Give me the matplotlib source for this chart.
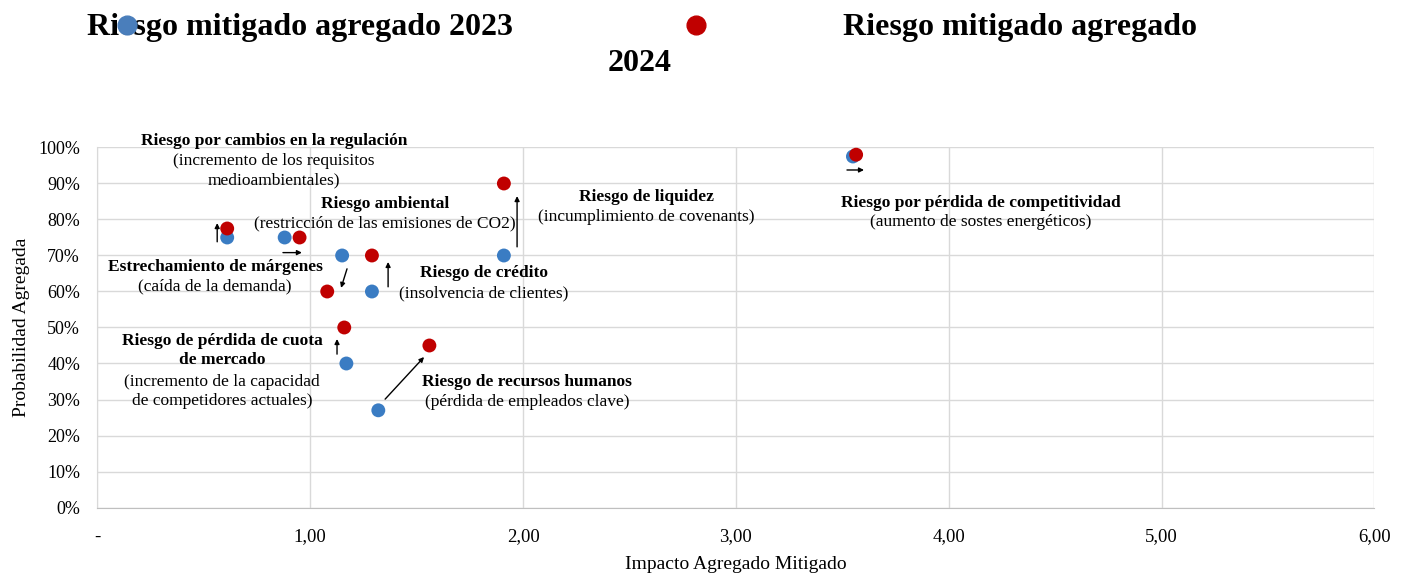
import matplotlib
matplotlib.use("Agg")
import matplotlib.pyplot as plt
from matplotlib.lines import Line2D

plt.rcParams['font.family'] = ['Liberation Serif', 'DejaVu Serif']

# ---------------- data ----------------
riesgos = ["Regulación", "Ambiental", "Márgenes", "Crédito", "Liquidez",
           "Cuota de mercado", "Recursos humanos", "Competitividad"]
impacto_2023 = [0.61, 0.88, 1.15, 1.29, 1.91, 1.17, 1.32, 3.55]
prob_2023 = [0.75, 0.75, 0.70, 0.60, 0.70, 0.40, 0.27, 0.975]
impacto_2024 = [0.61, 0.95, 1.08, 1.29, 1.91, 1.16, 1.56, 3.565]
prob_2024 = [0.775, 0.75, 0.60, 0.70, 0.90, 0.50, 0.45, 0.98]

serie_2023 = "Riesgo mitigado agregado 2023"
serie_2024 = "Riesgo mitigado agregado"
serie_2024_b = "2024"

titulos = ["Riesgo por cambios en la regulación", "Riesgo ambiental",
           "Estrechamiento de márgenes", "Riesgo de crédito", "Riesgo de liquidez",
           "Riesgo de pérdida de cuota\nde mercado", "Riesgo de recursos humanos",
           "Riesgo por pérdida de competitividad"]
subtitulos = ["(incremento de los requisitos\nmedioambientales)",
              "(restricción de las emisiones de CO2)",
              "(caída de la demanda)", "(insolvencia de clientes)",
              "(incumplimiento de covenants)",
              "(incremento de la capacidad\nde competidores actuales)",
              "(pérdida de empleados clave)",
              "(aumento de sostes energéticos)"]
# label anchor positions (data coords): title (x, y), subtitle y
titulo_pos = [(0.830, 1.018), (1.351, 0.843), (0.553, 0.668), (1.817, 0.651),
              (2.578, 0.863), (0.586, 0.436), (2.019, 0.349), (4.152, 0.846)]
subtitulo_y = [0.935, 0.790, 0.613, 0.596, 0.807, 0.321, 0.293, 0.793]
# arrows (start -> end), data coords
flechas = [((0.563, 0.738), (0.563, 0.790)),
           ((0.872, 0.708), (0.961, 0.708)),
           ((1.173, 0.663), (1.145, 0.610)),
           ((1.366, 0.613), (1.366, 0.682)),
           ((1.972, 0.724), (1.972, 0.865)),
           ((1.126, 0.426), (1.126, 0.468)),
           ((1.352, 0.301), (1.535, 0.418)),
           ((3.522, 0.9375), (3.602, 0.9375))]

x_ticks = [0, 1, 2, 3, 4, 5, 6]
x_ticklabels = ["-", "1,00", "2,00", "3,00", "4,00", "5,00", "6,00"]
y_ticks = [0, 0.1, 0.2, 0.3, 0.4, 0.5, 0.6, 0.7, 0.8, 0.9, 1.0]
y_ticklabels = ["0%", "10%", "20%", "30%", "40%", "50%", "60%", "70%", "80%", "90%", "100%"]

BLUE = "#3A7CC3"
RED = "#C00000"

# ---------------- figure ----------------
fig = plt.figure(figsize=(14.01, 5.73), dpi=100)
ax = fig.add_axes([0.0695, 0.1143, 0.9115, 0.6283])
ax.set_xlim(0, 6)
ax.set_ylim(0, 1)

ax.scatter(impacto_2023, prob_2023, s=100, color=BLUE, edgecolors='none', zorder=3)
ax.scatter(impacto_2024, prob_2024, s=100, color=RED, edgecolors='none', zorder=4)

for (p0, p1) in flechas:
    ax.annotate("", xy=p1, xytext=p0,
                arrowprops=dict(arrowstyle='-|>', color='black', lw=1.0,
                                mutation_scale=7, shrinkA=0, shrinkB=0),
                zorder=5)

for t, (tx, ty), s, sy in zip(titulos, titulo_pos, subtitulos, subtitulo_y):
    ax.text(tx, ty, t, ha='center', va='center', fontsize=12.5,
            fontweight='bold', linespacing=1.25, zorder=6, clip_on=False)
    ax.text(tx, sy, s, ha='center', va='center', fontsize=12.5,
            linespacing=1.25, zorder=6, clip_on=False)

ax.set_xticks(x_ticks)
ax.set_xticklabels(x_ticklabels, fontsize=13.5)
ax.set_yticks(y_ticks)
ax.set_yticklabels(y_ticklabels, fontsize=13)
ax.tick_params(axis='x', length=0, pad=15)
ax.tick_params(axis='y', length=0, pad=12.5)
ax.grid(True, color='#d9d9d9', lw=1)
ax.set_axisbelow(True)
for sp in ['top', 'right']:
    ax.spines[sp].set_visible(False)
ax.spines['left'].set_color('#d9d9d9')
ax.spines['bottom'].set_color('#bfbfbf')

ax.set_xlabel("Impacto Agregado Mitigado", fontsize=14)
ax.xaxis.set_label_coords(0.5, -0.135)
ax.set_ylabel("Probabilidad Agregada", fontsize=14)
ax.yaxis.set_label_coords(-0.053, 0.5)

# ---------------- legend (manual) ----------------
fig.text(87 / 1401, 1 - 27 / 573, serie_2023, ha='left', va='center',
         fontsize=23, fontweight='bold', zorder=3)
fig.text(843 / 1401, 1 - 27 / 573, serie_2024, ha='left', va='center',
         fontsize=23, fontweight='bold', zorder=3)
fig.text(640 / 1401, 1 - 63 / 573, serie_2024_b, ha='center', va='center',
         fontsize=23, fontweight='bold', zorder=3)
fig.add_artist(Line2D([127 / 1401], [1 - 25 / 573], transform=fig.transFigure,
                      marker='o', markersize=13.5, color='#4A7EBB',
                      linestyle='none', zorder=10))
fig.add_artist(Line2D([696 / 1401], [1 - 25 / 573], transform=fig.transFigure,
                      marker='o', markersize=13.5, color=RED,
                      linestyle='none', zorder=10))

fig.savefig("out.png", dpi=100)
